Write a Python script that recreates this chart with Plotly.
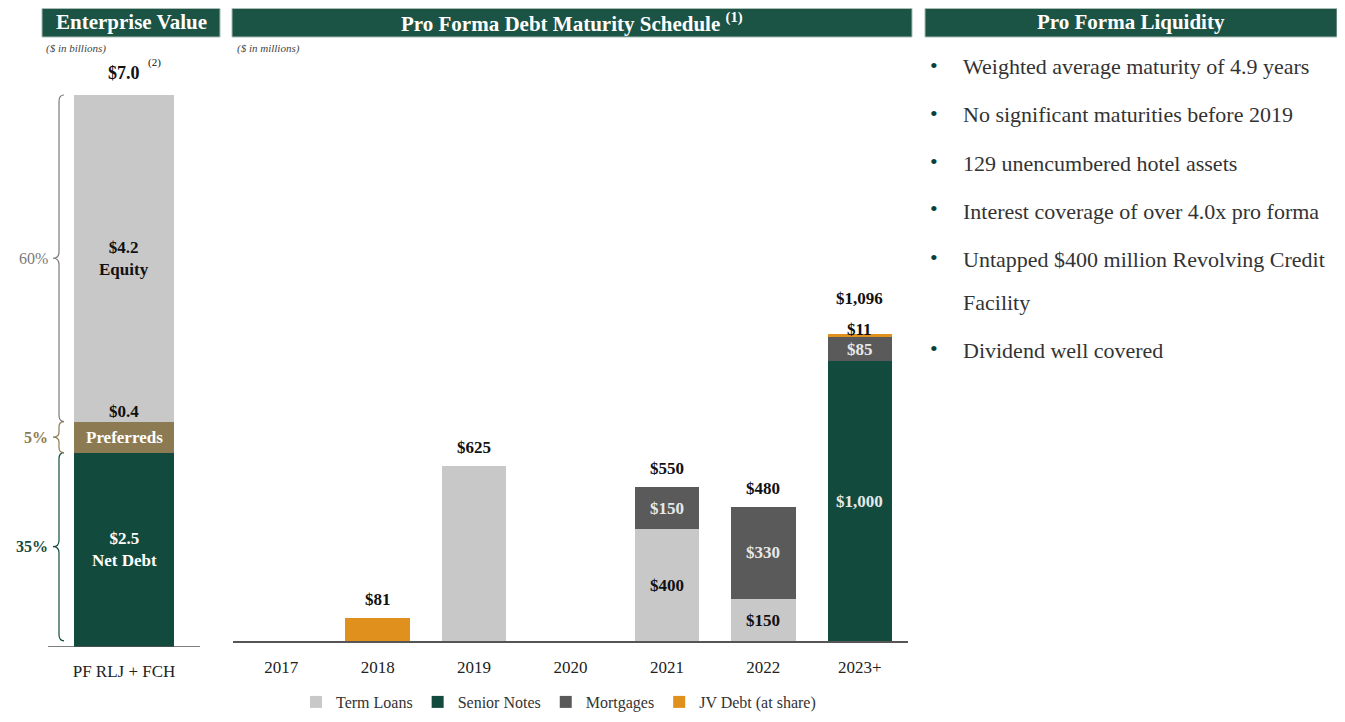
import plotly.graph_objects as go

OFF = 8  # page body margin
W, H = 1345 - 2 * OFF, 722 - 2 * OFF
FONT = "Liberation Serif"

# ---------------- data ----------------
ev_category = ["PF RLJ + FCH"]
ev_series = ["Net Debt", "Preferreds", "Equity"]
ev_values = [2.5, 0.4, 4.2]
ev_total_label = "$7.0"
ev_pct_labels = ["35%", "5%", "60%"]

years = ["2017", "2018", "2019", "2020", "2021", "2022", "2023+"]
term_loans = [0, 0, 625, 0, 400, 150, 0]
senior_notes = [0, 0, 0, 0, 0, 0, 1000]
mortgages = [0, 0, 0, 0, 150, 330, 85]
jv_debt = [0, 81, 0, 0, 0, 0, 11]

bullets = [
    ["Weighted average maturity of 4.9 years"],
    ["No significant maturities before 2019"],
    ["129 unencumbered hotel assets"],
    ["Interest coverage of over 4.0x pro forma"],
    ["Untapped $400 million Revolving Credit", "Facility"],
    ["Dividend well covered"],
]

# ---------------- styles ----------------
GREEN = "#124B3E"
HEADER = "#1B5345"
TAN = "#8C7B52"
LGRAY = "#C8C8C8"
DGRAY = "#5A5A5A"
ORANGE = "#E0901C"
ev_colors = [GREEN, TAN, LGRAY]
pct_colors = [GREEN, TAN, "#7A7A7A"]


def px(x):
    return (x - OFF) / W


def py(y):
    return 1 - (y - OFF) / H


fig = go.Figure()

# ---------------- left: enterprise value ----------------
for name, v, c in zip(ev_series, ev_values, ev_colors):
    fig.add_trace(go.Bar(x=[0], y=[v], width=1.0, marker=dict(color=c, line=dict(width=0)),
                         name=name, showlegend=False, xaxis="x", yaxis="y", hoverinfo="skip"))

ev_sum = sum(ev_values)
ev_px_per_unit = 552 / ev_sum
annotations = []
shapes = []

bases = [0]
for v in ev_values[:-1]:
    bases.append(bases[-1] + v)

annotations.append(dict(x=0, y=bases[0] + ev_values[0] / 2, xref="x", yref="y",
                        text=f"<b>${ev_values[0]:.1f}<br>{ev_series[0]}</b>", showarrow=False,
                        font=dict(family=FONT, size=17, color="white")))
annotations.append(dict(x=0, y=bases[1] + ev_values[1] / 2, xref="x", yref="y",
                        text=f"<b>{ev_series[1]}</b>", showarrow=False,
                        font=dict(family=FONT, size=17, color="white")))
annotations.append(dict(x=0, y=bases[2], xref="x", yref="y", yanchor="bottom", yshift=-1,
                        text=f"<b>${ev_values[1]:.1f}</b>", showarrow=False,
                        font=dict(family=FONT, size=17, color="#111")))
annotations.append(dict(x=0, y=bases[2] + ev_values[2] / 2, xref="x", yref="y",
                        text=f"<b>${ev_values[2]:.1f}<br>{ev_series[2]}</b>", showarrow=False,
                        font=dict(family=FONT, size=17, color="#111")))
annotations.append(dict(x=0, y=ev_sum, xref="x", yref="y", yanchor="bottom", yshift=10,
                        text=f"<b>{ev_total_label}</b>", showarrow=False,
                        font=dict(family=FONT, size=18, color="#111")))
annotations.append(dict(x=0.22, y=ev_sum, xref="x", yref="y", yanchor="bottom", xanchor="left",
                        yshift=24, text="(2)", showarrow=False,
                        font=dict(family=FONT, size=11, color="#111")))

# braces
bx = -0.65
for i, (v, col, lab) in enumerate(zip(ev_values, pct_colors, ev_pct_labels)):
    y0 = bases[i] + (0.08 if i == 0 else 0.0)
    y1 = bases[i] + v
    ym = (y0 + y1) / 2
    e = min(0.08, v / 6)
    path = (f"M {bx+0.05},{y0} Q {bx},{y0} {bx},{y0+e} L {bx},{ym-e} "
            f"Q {bx},{ym} {bx-0.06},{ym} Q {bx},{ym} {bx},{ym+e} L {bx},{y1-e} "
            f"Q {bx},{y1} {bx+0.05},{y1}")
    shapes.append(dict(type="path", path=path, xref="x", yref="y",
                       line=dict(color=col, width=1.2)))
    annotations.append(dict(x=bx - 0.09, y=ym, xref="x", yref="y", xanchor="right",
                            text=f"<b>{lab}</b>" if i != 2 else lab, showarrow=False,
                            font=dict(family=FONT, size=16, color=col)))

shapes.append(dict(type="line", x0=-0.76, x1=0.76, y0=0, y1=0, xref="x", yref="y",
                   line=dict(color="#555", width=1.5)))

# ---------------- middle: maturity schedule ----------------
xpos = list(range(len(years)))
series = [("Term Loans", term_loans, LGRAY), ("Senior Notes", senior_notes, GREEN),
          ("Mortgages", mortgages, DGRAY), ("JV Debt (at share)", jv_debt, ORANGE)]
for name, vals, c in series:
    fig.add_trace(go.Bar(x=xpos, y=vals, name=name, marker=dict(color=c, line=dict(width=0)),
                         xaxis="x2", yaxis="y2", hoverinfo="skip"))

totals = [sum(s[1][i] for s in series) for i in range(len(years))]
for i in xpos:
    if totals[i] == 0:
        continue
    nseg = sum(1 for s in series if s[1][i] > 0)
    small_top = 0 < series[-1][1][i] < 40 and nseg > 1
    annotations.append(dict(x=i, y=totals[i], xref="x2", yref="y2", yanchor="bottom",
                            xanchor="center",
                            yshift=24 if small_top else 7, text=f"<b>${totals[i]:,}</b>",
                            showarrow=False, font=dict(family=FONT, size=17, color="#111")))
    if nseg > 1:
        base = 0
        for name, vals, c in series:
            v = vals[i]
            if v == 0:
                continue
            if v < 40:
                annotations.append(dict(x=i, y=base + v, xref="x2", yref="y2", yanchor="bottom",
                                        xanchor="center", yshift=-7, text=f"<b>${v:,}</b>",
                                        showarrow=False,
                                        font=dict(family=FONT, size=17, color="#111")))
            else:
                tc = "#111" if c == LGRAY else "#E8E8E8"
                annotations.append(dict(x=i, y=base + v / 2, xref="x2", yref="y2",
                                        xanchor="center", yanchor="middle",
                                        text=f"<b>${v:,}</b>", showarrow=False,
                                        font=dict(family=FONT, size=17, color=tc)))
            base += v

# ---------------- headers ----------------
headers = [(42, 220, "Enterprise Value"),
           (232, 912, "Pro Forma Debt Maturity Schedule <sup>(1)</sup>"),
           (925, 1337, "Pro Forma Liquidity")]
for x0, x1, t in headers:
    shapes.append(dict(type="rect", xref="paper", yref="paper", x0=px(x0), x1=px(x1),
                       y0=py(37), y1=py(8.5), fillcolor=HEADER, line=dict(color="#A9BDB5", width=1),
                       layer="above"))
    annotations.append(dict(x=px((x0 + x1) / 2), y=py(22), xref="paper", yref="paper",
                            xanchor="center", yanchor="middle",
                            text=f"<b>{t}</b>", showarrow=False,
                            font=dict(family=FONT, size=21, color="white")))

annotations.append(dict(x=px(44), y=py(49), xref="paper", yref="paper", xanchor="left",
                        yanchor="middle", text="<i>($ in billions)</i>", showarrow=False,
                        font=dict(family=FONT, size=11, color="#444")))
annotations.append(dict(x=px(235), y=py(49), xref="paper", yref="paper", xanchor="left",
                        yanchor="middle", text="<i>($ in millions)</i>", showarrow=False,
                        font=dict(family=FONT, size=11, color="#444")))

# ---------------- right: bullets ----------------
line_y = 67
for parts in bullets:
    annotations.append(dict(x=px(934), y=py(line_y - 2), xref="paper", yref="paper",
                            xanchor="center", yanchor="middle",
                            text="•", showarrow=False,
                            font=dict(family=FONT, size=22, color="#0E3F33")))
    for j, p in enumerate(parts):
        annotations.append(dict(x=px(961), y=py(line_y), xref="paper", yref="paper",
                                xanchor="left", yanchor="middle", text=p, showarrow=False,
                                font=dict(family=FONT, size=22, color="#333")))
        if j < len(parts) - 1:
            line_y += 43
    line_y += 48

fig.update_layout(
    width=W, height=H, margin=dict(l=0, r=0, t=0, b=0, autoexpand=False),
    paper_bgcolor="white", plot_bgcolor="rgba(0,0,0,0)",
    barmode="stack", bargap=0.333,
    xaxis=dict(domain=[px(OFF), px(210)], range=[-(124 - OFF) / 100, (210 - 124) / 100],
               tickvals=[0], ticktext=ev_category,
               showgrid=False, zeroline=False, showline=False, ticklabelstandoff=12,
               tickfont=dict(family=FONT, size=17, color="#222"), fixedrange=True),
    yaxis=dict(domain=[py(647), py(60)], range=[0, 587 / ev_px_per_unit], visible=False,
               showgrid=False),
    xaxis2=dict(domain=[px(233), px(908)], anchor="y2", range=[-0.5, len(years) - 0.5],
                tickvals=xpos, ticktext=years, showgrid=False,
                zeroline=False, showline=True, linecolor="#555", linewidth=1.5,
                ticklabelstandoff=10, tickfont=dict(family=FONT, size=17, color="#222")),
    yaxis2=dict(domain=[py(641), py(60)], anchor="x2", range=[0, 581 / 0.28], visible=False,
                showgrid=False),
    legend=dict(orientation="h", x=px(296), y=py(702), xanchor="left", yanchor="middle",
                font=dict(family=FONT, size=16, color="#333"), traceorder="normal",
                itemwidth=30, bgcolor="rgba(0,0,0,0)"),
    annotations=annotations, shapes=shapes,
)

fig.write_html("out.html")
